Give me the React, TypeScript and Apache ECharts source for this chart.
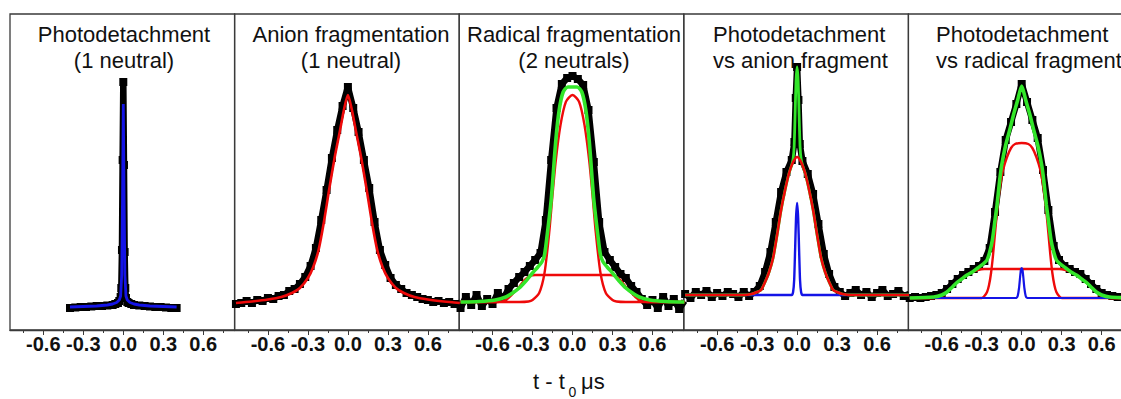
import React, { useEffect, useRef } from "react";
import * as echarts from "echarts";

// ---------- data ----------
// x: t - t0 (µs); y: counts in arbitrary units (0 = bottom of panel, 316 = top)
const xMajorTicks = [-0.6, -0.3, 0, 0.3, 0.6];
const xMinorTicks = [-0.75, -0.45, -0.15, 0.15, 0.45, 0.75];

const panelTitles: string[][] = [
  ["Photodetachment", "(1 neutral)"],
  ["Anion fragmentation", "(1 neutral)"],
  ["Radical fragmentation", "(2 neutrals)"],
  ["Photodetachment", "vs anion fragment"],
  ["Photodetachment", "vs radical fragment"],
];

// Panel 1: photodetachment
const p1Counts: [number, number][] = [
  [-0.4, 22], [-0.36, 22.5], [-0.32, 23], [-0.28, 23], [-0.24, 23.5], [-0.2, 24], [-0.16, 24],
  [-0.12, 24.5], [-0.08, 25], [-0.06, 26], [-0.04, 27], [-0.03, 29], [-0.02, 33], [-0.015, 42],
  [-0.01, 80], [-0.005, 170], [0, 248], [0.005, 165], [0.01, 78], [0.015, 42], [0.02, 32],
  [0.03, 28], [0.04, 27], [0.06, 26], [0.08, 25], [0.12, 24.5], [0.16, 24], [0.2, 23.5],
  [0.24, 23], [0.28, 23], [0.32, 22.5], [0.36, 22], [0.4, 22],
];
const p1Fit: [number, number][] = [
  [-0.4, 23], [-0.3, 23.5], [-0.2, 24], [-0.12, 25], [-0.08, 26], [-0.05, 27.5], [-0.03, 30],
  [-0.02, 34], [-0.012, 55], [-0.006, 130], [0, 226], [0.006, 130], [0.012, 55], [0.02, 34],
  [0.03, 30], [0.05, 27.5], [0.08, 26], [0.12, 25], [0.2, 24], [0.3, 23.5], [0.4, 23],
];

// Panel 2: anion fragmentation
const p2Counts: [number, number][] = [
  [-0.84, 26], [-0.8, 27], [-0.76, 29], [-0.72, 27], [-0.68, 30], [-0.64, 29], [-0.6, 32],
  [-0.56, 31], [-0.52, 34], [-0.48, 35], [-0.44, 39], [-0.4, 41], [-0.36, 46], [-0.32, 53],
  [-0.28, 64], [-0.24, 82], [-0.2, 110], [-0.16, 140], [-0.12, 172], [-0.08, 200], [-0.04, 224],
  [0, 243], [0.04, 222], [0.08, 198], [0.12, 170], [0.16, 142], [0.2, 108], [0.24, 80],
  [0.28, 65], [0.32, 52], [0.36, 45], [0.4, 41], [0.44, 37], [0.48, 35], [0.52, 33], [0.56, 31],
  [0.6, 30], [0.64, 28], [0.68, 29], [0.72, 27], [0.76, 28], [0.8, 26], [0.84, 27],
];
const p2Fit: [number, number][] = [
  [-0.84, 27], [-0.72, 28.5], [-0.6, 30.5], [-0.5, 33], [-0.42, 37], [-0.36, 42], [-0.3, 52],
  [-0.26, 63], [-0.22, 80], [-0.18, 108], [-0.14, 141], [-0.1, 172], [-0.06, 199], [-0.03, 220],
  [0, 235], [0.03, 220], [0.06, 199], [0.1, 172], [0.14, 141], [0.18, 108], [0.22, 80],
  [0.26, 63], [0.3, 52], [0.36, 42], [0.42, 37], [0.5, 33], [0.6, 30.5], [0.72, 28.5], [0.84, 27],
];

// Panel 3: radical fragmentation
const p3Counts: [number, number][] = [
  [-0.84, 22], [-0.8, 33], [-0.76, 25], [-0.72, 35], [-0.68, 24], [-0.64, 31], [-0.6, 26],
  [-0.56, 37], [-0.52, 31], [-0.48, 41], [-0.44, 47], [-0.4, 53], [-0.36, 58], [-0.32, 64],
  [-0.28, 70], [-0.24, 77], [-0.2, 110], [-0.16, 170], [-0.12, 222], [-0.08, 246], [-0.04, 252],
  [0, 254], [0.04, 251], [0.08, 245], [0.12, 220], [0.16, 168], [0.2, 108], [0.24, 78],
  [0.28, 70], [0.32, 63], [0.36, 56], [0.4, 52], [0.44, 44], [0.48, 38], [0.52, 31], [0.56, 25],
  [0.6, 30], [0.64, 22], [0.68, 33], [0.72, 24], [0.76, 31], [0.8, 21], [0.84, 29],
];
const p3Sum: [number, number][] = [
  [-0.84, 28], [-0.7, 28.5], [-0.58, 30], [-0.5, 33], [-0.45, 37], [-0.4, 42], [-0.35, 49],
  [-0.3, 57], [-0.26, 63], [-0.23, 68], [-0.21, 75], [-0.19, 95], [-0.16, 130], [-0.125, 190],
  [-0.1, 220], [-0.07, 238], [-0.035, 243], [0, 243], [0.035, 243], [0.07, 238], [0.1, 220],
  [0.125, 190], [0.16, 130], [0.19, 95], [0.21, 75], [0.23, 68], [0.26, 63], [0.3, 57],
  [0.35, 49], [0.4, 42], [0.45, 37], [0.5, 33], [0.58, 30], [0.7, 28.5], [0.84, 28],
];
const p3Narrow: [number, number][] = [
  [-0.84, 28], [-0.4, 28], [-0.33, 28.5], [-0.3, 30], [-0.25, 37], [-0.21, 57], [-0.175, 97],
  [-0.15, 135], [-0.125, 170], [-0.09, 205], [-0.05, 228], [0, 235], [0.05, 228], [0.09, 205],
  [0.125, 170], [0.15, 135], [0.175, 97], [0.21, 57], [0.25, 37], [0.3, 30], [0.33, 28.5],
  [0.4, 28], [0.84, 28],
];
const p3Wide: [number, number][] = [
  [-0.84, 28], [-0.56, 28], [-0.5, 30], [-0.45, 36], [-0.4, 43], [-0.36, 50], [-0.32, 54],
  [-0.28, 55], [0, 55], [0.28, 55], [0.32, 54], [0.36, 50], [0.4, 43], [0.45, 36], [0.5, 30],
  [0.56, 28], [0.84, 28],
];

// Panel 4: photodetachment vs anion fragment
const p4Counts: [number, number][] = [
  [-0.84, 36], [-0.8, 32], [-0.76, 38], [-0.72, 35], [-0.68, 39], [-0.64, 33], [-0.6, 37],
  [-0.56, 34], [-0.52, 38], [-0.48, 36], [-0.44, 33], [-0.4, 38], [-0.36, 34], [-0.32, 38],
  [-0.28, 44], [-0.24, 58], [-0.2, 78], [-0.16, 108], [-0.12, 138], [-0.08, 158], [-0.04, 170],
  [-0.02, 188], [-0.01, 232], [0, 263], [0.01, 230], [0.02, 186], [0.04, 169], [0.08, 156],
  [0.12, 136], [0.16, 106], [0.2, 76], [0.24, 56], [0.28, 43], [0.32, 38], [0.36, 34], [0.4, 37],
  [0.44, 40], [0.48, 35], [0.52, 38], [0.56, 33], [0.6, 37], [0.64, 40], [0.68, 34], [0.72, 36],
  [0.76, 39], [0.8, 34], [0.84, 36],
];
const p4Anion: [number, number][] = [
  [-0.84, 35], [-0.4, 35], [-0.34, 36], [-0.3, 38], [-0.27, 40], [-0.24, 48], [-0.21, 58],
  [-0.18, 72], [-0.15, 95], [-0.12, 120], [-0.09, 140], [-0.06, 157], [-0.03, 168], [0, 173],
  [0.03, 168], [0.06, 157], [0.09, 140], [0.12, 120], [0.15, 95], [0.18, 72], [0.21, 58],
  [0.24, 48], [0.27, 40], [0.3, 38], [0.34, 36], [0.4, 35], [0.84, 35],
];
const p4Photo: [number, number][] = [
  [-0.84, 35], [-0.04, 35], [-0.03, 38], [-0.022, 50], [-0.015, 80], [-0.008, 112], [0, 127],
  [0.008, 112], [0.015, 80], [0.022, 50], [0.03, 38], [0.04, 35], [0.84, 35],
];
const p4Sum: [number, number][] = [
  [-0.84, 35], [-0.4, 35], [-0.34, 36], [-0.3, 38], [-0.27, 40], [-0.24, 48], [-0.21, 58],
  [-0.18, 72], [-0.15, 95], [-0.12, 120], [-0.09, 140], [-0.06, 157], [-0.04, 165], [-0.03, 171],
  [-0.022, 184], [-0.015, 216], [-0.008, 249], [0, 263], [0.008, 249], [0.015, 216], [0.022, 184],
  [0.03, 171], [0.04, 165], [0.06, 157], [0.09, 140], [0.12, 120], [0.15, 95], [0.18, 72],
  [0.21, 58], [0.24, 48], [0.27, 40], [0.3, 38], [0.34, 36], [0.4, 35], [0.84, 35],
];

// Panel 5: photodetachment vs radical fragment
const p5Counts: [number, number][] = [
  [-0.84, 32], [-0.8, 33], [-0.76, 32], [-0.72, 33], [-0.68, 34], [-0.64, 35], [-0.6, 37],
  [-0.56, 41], [-0.52, 46], [-0.48, 51], [-0.44, 55], [-0.4, 58], [-0.36, 61], [-0.32, 64],
  [-0.28, 69], [-0.24, 82], [-0.2, 118], [-0.16, 158], [-0.12, 190], [-0.08, 208], [-0.04, 226],
  [0, 246], [0.04, 228], [0.08, 210], [0.12, 192], [0.16, 160], [0.2, 120], [0.24, 84],
  [0.28, 70], [0.32, 64], [0.36, 61], [0.4, 58], [0.44, 56], [0.48, 51], [0.52, 46], [0.56, 41],
  [0.6, 37], [0.64, 35], [0.68, 34], [0.72, 33], [0.76, 33], [0.8, 32], [0.84, 33],
];
const p5Sum: [number, number][] = [
  [-0.84, 32], [-0.66, 33], [-0.6, 35], [-0.56, 38], [-0.52, 43], [-0.49, 47], [-0.45, 51],
  [-0.41, 55], [-0.37, 58], [-0.33, 62], [-0.29, 66], [-0.26, 70], [-0.24, 78], [-0.22, 90],
  [-0.2, 110], [-0.185, 125], [-0.165, 150], [-0.15, 165], [-0.12, 185], [-0.09, 200],
  [-0.06, 216], [-0.03, 230], [0, 244], [0.03, 230], [0.06, 216], [0.09, 200], [0.12, 185],
  [0.15, 165], [0.165, 150], [0.185, 125], [0.2, 110], [0.22, 90], [0.24, 78], [0.26, 70],
  [0.29, 66], [0.33, 62], [0.37, 58], [0.41, 55], [0.45, 51], [0.49, 47], [0.52, 43], [0.56, 38],
  [0.6, 35], [0.66, 33], [0.84, 32],
];
const p5Narrow: [number, number][] = [
  [-0.84, 32], [-0.3, 32], [-0.28, 34], [-0.26, 38], [-0.245, 45], [-0.23, 57], [-0.215, 75],
  [-0.2, 97], [-0.18, 125], [-0.16, 145], [-0.14, 160], [-0.11, 173], [-0.08, 182], [-0.05, 186],
  [0, 187], [0.05, 186], [0.08, 182], [0.11, 173], [0.14, 160], [0.16, 145], [0.18, 125],
  [0.2, 97], [0.215, 75], [0.23, 57], [0.245, 45], [0.26, 38], [0.28, 34], [0.3, 32], [0.84, 32],
];
const p5Wide: [number, number][] = [
  [-0.84, 32], [-0.66, 32], [-0.6, 34], [-0.56, 38], [-0.52, 43], [-0.49, 47], [-0.45, 51],
  [-0.41, 55], [-0.37, 58], [-0.33, 60], [-0.28, 61], [0, 61], [0.28, 61], [0.33, 60],
  [0.37, 58], [0.41, 55], [0.45, 51], [0.49, 47], [0.52, 43], [0.56, 38], [0.6, 34], [0.66, 32],
  [0.84, 32],
];
const p5Photo: [number, number][] = [
  [-0.84, 32], [-0.04, 32], [-0.03, 34], [-0.02, 42], [-0.012, 53], [-0.006, 60], [0, 62],
  [0.006, 60], [0.012, 53], [0.02, 42], [0.03, 34], [0.04, 32], [0.84, 32],
];

// ---------- styling / layout ----------
const FONT = '"Liberation Sans", Arial, Helvetica, sans-serif';
const BLACK = "#000000";
const RED = "#ee0a0a";
const GREEN = "#33e62a";
const BLUE = "#1414e6";
const FRAME = "#3a3a3a";
const GRID_TOP = 14;
const GRID_H = 316;
const GRID_W = 224.6;
const GRID_LEFT0 = 10;
const X_MIN = -0.85;
const X_MAX = 0.835;
const Y_MAX = 316;

function buildOption() {
  const grids: any[] = [];
  const xAxes: any[] = [];
  const yAxes: any[] = [];
  for (let i = 0; i < 5; i++) {
    grids.push({
      left: GRID_LEFT0 + i * GRID_W,
      top: GRID_TOP,
      width: GRID_W,
      height: GRID_H,
      show: true,
      borderColor: FRAME,
      borderWidth: 1.3,
      backgroundColor: "transparent",
    });
    xAxes.push({
      gridIndex: i,
      type: "value",
      min: X_MIN,
      max: X_MAX,
      position: "bottom",
      axisLine: { show: false },
      splitLine: { show: false },
      axisLabel: { show: false },
      axisTick: {
        show: true,
        inside: false,
        length: 3,
        customValues: xMinorTicks,
        lineStyle: { color: FRAME, width: 1 },
      },
    });
    xAxes.push({
      gridIndex: i,
      type: "value",
      min: X_MIN,
      max: X_MAX,
      position: "bottom",
      axisLine: { show: true, onZero: false, lineStyle: { color: FRAME, width: 1.3 } },
      splitLine: { show: false },
      axisTick: {
        show: true,
        inside: false,
        length: 5,
        customValues: xMajorTicks,
        lineStyle: { color: FRAME, width: 1 },
      },
      axisLabel: {
        show: true,
        customValues: xMajorTicks,
        formatter: (v: number) => v.toFixed(1),
        fontFamily: FONT,
        fontSize: 20,
        fontWeight: "bold",
        color: "#111",
        margin: 4,
      },
    });
    yAxes.push({ gridIndex: i, type: "value", min: 0, max: Y_MAX, show: false });
  }

  const counts = (i: number, data: [number, number][]) => ({
    type: "line",
    xAxisIndex: 2 * i + 1,
    yAxisIndex: i,
    data,
    z: 2,
    symbol: "rect",
    symbolSize: 8,
    showSymbol: true,
    showAllSymbol: true,
    lineStyle: { color: BLACK, width: 6.5 },
    itemStyle: { color: BLACK },
    silent: true,
  });
  const fit = (i: number, data: [number, number][], color: string, width: number, smooth: number | boolean, z: number) => ({
    type: "line",
    xAxisIndex: 2 * i + 1,
    yAxisIndex: i,
    data,
    z,
    symbol: "none",
    smooth,
    lineStyle: { color, width },
    silent: true,
  });

  const series: any[] = [
    counts(0, p1Counts),
    fit(0, p1Fit, BLUE, 2.8, false, 3),

    counts(1, p2Counts),
    fit(1, p2Fit, RED, 2.6, 0.25, 3),

    counts(2, p3Counts),
    fit(2, p3Wide, RED, 2.4, 0.25, 3),
    fit(2, p3Narrow, RED, 2.4, 0.25, 3),
    fit(2, p3Sum, GREEN, 3.6, 0.25, 4),

    counts(3, p4Counts),
    fit(3, p4Photo, BLUE, 2.4, 0.2, 3),
    fit(3, p4Sum, GREEN, 2.8, 0.2, 4),
    fit(3, p4Anion, RED, 2.6, 0.25, 5),

    counts(4, p5Counts),
    fit(4, p5Wide, RED, 2.4, 0.25, 3),
    fit(4, p5Narrow, RED, 2.4, 0.25, 3),
    fit(4, p5Photo, BLUE, 2.2, 0.2, 4),
    fit(4, p5Sum, GREEN, 3.6, 0.25, 5),
  ];

  // title anchors: [x, align]
  const titleAnchors: [number, string][] = [
    [124, "center"],
    [351, "center"],
    [574, "center"],
    [713, "left"],
    [936, "left"],
  ];
  const graphic: any[] = [];
  panelTitles.forEach((lines, i) => {
    lines.forEach((line, j) => {
      graphic.push({
        type: "text",
        x: titleAnchors[i][0],
        y: 34.5 + j * 26,
        silent: true,
        style: {
          text: line,
          fontFamily: FONT,
          fontSize: 22,
          fill: "#111",
          align: titleAnchors[i][1],
          verticalAlign: "middle",
          textAlign: titleAnchors[i][1],
          textVerticalAlign: "middle",
        },
      });
    });
  });
  const axisTitleParts = [
    { text: "t - t", x: 533, y: 381, size: 22 },
    { text: "0", x: 568.5, y: 392, size: 14 },
    { text: "\u03bcs", x: 581, y: 381, size: 22 },
  ];
  axisTitleParts.forEach((p) => {
    graphic.push({
      type: "text",
      x: p.x,
      y: p.y,
      silent: true,
      style: {
        text: p.text,
        fontFamily: FONT,
        fontSize: p.size,
        fill: "#111",
        align: "left",
        verticalAlign: "middle",
        textAlign: "left",
        textVerticalAlign: "middle",
      },
    });
  });

  return {
    animation: false,
    backgroundColor: "#ffffff",
    grid: grids,
    xAxis: xAxes,
    yAxis: yAxes,
    series,
    graphic,
  };
}

export default function App() {
  const ref = useRef<HTMLDivElement>(null);
  useEffect(() => {
    if (!ref.current) return;
    const chart = echarts.init(ref.current, undefined, { renderer: "svg" });
    chart.setOption(buildOption() as any);
    return () => chart.dispose();
  }, []);
  return (
    <div
      style={{ position: "absolute", left: 0, top: 0, width: 1121, height: 399, overflow: "hidden", background: "#fff" }}
    >
      <div ref={ref} style={{ width: 1145, height: 399 }} />
    </div>
  );
}
